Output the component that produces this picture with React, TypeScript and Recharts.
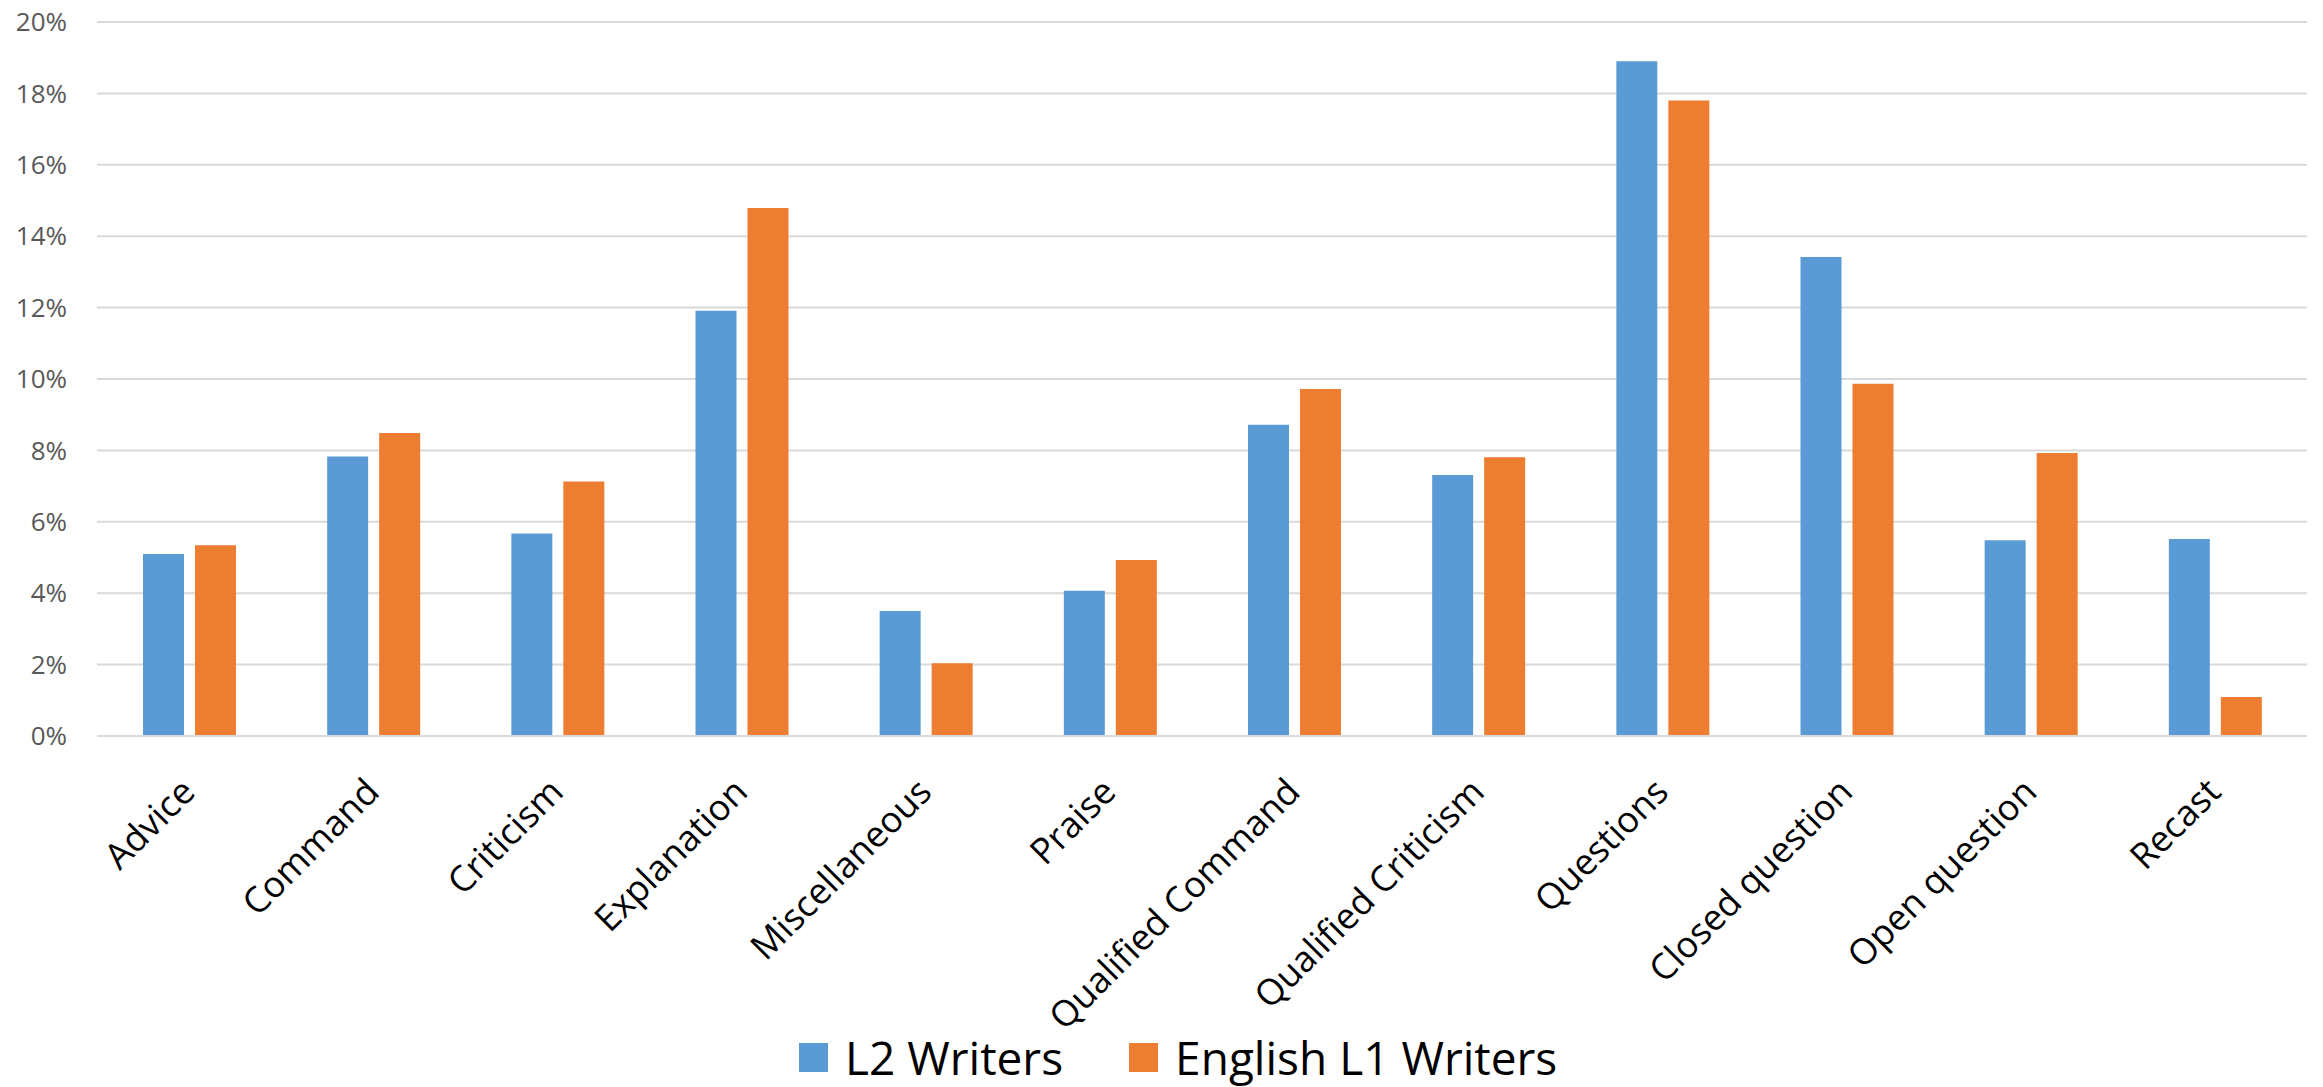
import React from "react";
import {
    BarChart,
    Bar,
    XAxis,
    YAxis,
    CartesianGrid,
    Legend
} from "recharts";


// feedback categories along the x axis
const categories = [
    "Advice",
    "Command",
    "Criticism",
    "Explanation",
    "Miscellaneous",
    "Praise",
    "Qualified Command",
    "Qualified Criticism",
    "Questions",
    "Closed question",
    "Open question",
    "Recast"
];

// share of comments, in percent
const l2Writers = [5.10, 7.83, 5.67, 11.91, 3.50, 4.07, 8.72, 7.31, 18.90, 13.42, 5.48, 5.52];
const l1Writers = [5.34, 8.49, 7.13, 14.79, 2.04, 4.93, 9.72, 7.81, 17.80, 9.87, 7.93, 1.09];

const yTicks = [0, 2, 4, 6, 8, 10, 12, 14, 16, 18, 20];

const series = [
    { key: "l2", name: "L2 Writers", color: "#5B9BD5" },
    { key: "l1", name: "English L1 Writers", color: "#ED7D31" }
];

const data = categories.map((name, i) => ({
    name,
    l2: l2Writers[i],
    l1: l1Writers[i]
}));


const FONT = "'Open Sans', 'Noto Sans', sans-serif";


function CategoryTick({ x, y, payload }: any) {

    const ax = x + 8;
    const ay = y + 50;

    return (
        <text
            x={ax}
            y={ay}
            transform={`rotate(-45, ${ax}, ${ay})`}
            textAnchor="end"
            fontFamily={FONT}
            fontSize={36}
            fill="#000000"
        >
            {payload.value}
        </text>
    );
}


function SeriesLegend() {

    return (
        <div
            style={{
                display: "flex",
                alignItems: "center",
                height: 60,
                paddingLeft: 799,
                fontFamily: FONT,
                fontSize: 46,
                color: "#000000",
                lineHeight: 1
            }}
        >
            {series.map((s) => (
                <div
                    key={s.key}
                    style={{ display: "flex", alignItems: "center", marginRight: 66 }}
                >
                    <span
                        style={{
                            display: "inline-block",
                            width: 29,
                            height: 29,
                            background: s.color,
                            marginRight: 17
                        }}
                    />
                    <span>{s.name}</span>
                </div>
            ))}
        </div>
    );
}


export default function App() {

    return (

        <div style={{ position: "absolute", left: 0, top: 0, background: "#ffffff" }}>

            <BarChart
                width={2323}
                height={1087}
                data={data}
                margin={{ top: 22, right: 16, left: 0, bottom: 0 }}
                barSize={41}
                barGap={11}
            >

                <CartesianGrid
                    vertical={false}
                    stroke="#d9d9d9"
                    strokeWidth={2}
                />

                <XAxis
                    dataKey="name"
                    interval={0}
                    height={291}
                    tickLine={false}
                    axisLine={{ stroke: "#d9d9d9", strokeWidth: 2 }}
                    tick={<CategoryTick />}
                />

                <YAxis
                    width={97}
                    domain={[0, 20]}
                    ticks={yTicks}
                    interval={0}
                    tickFormatter={(v: number) => `${v}%`}
                    axisLine={false}
                    tickLine={false}
                    tickMargin={24}
                    tick={{ fill: "#595959", fontSize: 26, fontFamily: FONT }}
                />

                <Legend
                    verticalAlign="bottom"
                    align="left"
                    wrapperStyle={{ left: 0, width: 2323, height: 60 }}
                    content={<SeriesLegend />}
                />

                {series.map((s) => (
                    <Bar
                        key={s.key}
                        dataKey={s.key}
                        name={s.name}
                        fill={s.color}
                        isAnimationActive={false}
                    />
                ))}

            </BarChart>

        </div>

    );

}
